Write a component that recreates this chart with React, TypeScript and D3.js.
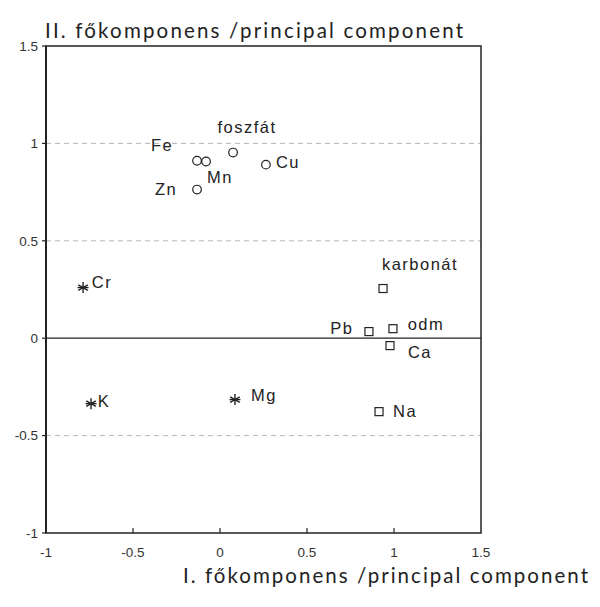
import React from "react";
import * as d3 from "d3";

// ---- data ----
const names = ["Fe", "Mn", "foszfát", "Cu", "Zn", "Cr", "K", "Mg", "karbonát", "Pb", "odm", "Ca", "Na"];
const pc1 = [-0.132, -0.08, 0.075, 0.264, -0.132, -0.787, -0.741, 0.086, 0.937, 0.856, 0.994, 0.977, 0.914];
const pc2 = [0.911, 0.907, 0.953, 0.891, 0.763, 0.26, -0.336, -0.315, 0.255, 0.034, 0.049, -0.038, -0.377];
const groups = ["circle", "circle", "circle", "circle", "circle", "star", "star", "star", "square", "square", "square", "square", "square"];
const xTicks = [-1, -0.5, 0, 0.5, 1, 1.5];
const yTicks = [-1, -0.5, 0, 0.5, 1, 1.5];
const gridY = [-0.5, 0.5, 1];
const xTitle = "I. főkomponens /principal component";
const yTitle = "II. főkomponens /principal component";

// label offsets (layout, px) relative to marker
const labelOffset: Record<string, [number, number]> = {
  Fe: [-35, -16],
  Mn: [14, 16],
  "foszfát": [14, -25],
  Cu: [22, -2],
  Zn: [-31, 0],
  Cr: [19, -5],
  K: [13, -2],
  Mg: [29, -4],
  "karbonát": [37, -24],
  Pb: [-27, -3],
  odm: [33, -4],
  Ca: [30, 7],
  Na: [26, 0],
};

const W = 600, H = 607;
const left = 46, right = 481, top = 46, bottom = 533;

export default function App() {
  const x = d3.scaleLinear().domain([-1, 1.5]).range([left, right]);
  const y = d3.scaleLinear().domain([-1, 1.5]).range([bottom, top]);
  const fmt = (v: number) => (v === 0 ? "0" : String(v));
  const ink = "#222";

  const marker = (g: string, cx: number, cy: number, i: number) => {
    if (g === "circle") return <circle key={"m" + i} cx={cx} cy={cy} r={4.3} fill="none" stroke={ink} strokeWidth={1.2} />;
    if (g === "square") return <rect key={"m" + i} x={cx - 4} y={cy - 4} width={8} height={8} fill="none" stroke={ink} strokeWidth={1.2} />;
    const r = 5.5;
    const angles = [90, 30, 150, 0];
    return (
      <g key={"m" + i} stroke={ink} strokeWidth={1.4}>
        {angles.map((a) => {
          const rad = (a * Math.PI) / 180;
          return <line key={a} x1={cx - r * Math.cos(rad)} y1={cy - r * Math.sin(rad)} x2={cx + r * Math.cos(rad)} y2={cy + r * Math.sin(rad)} />;
        })}
      </g>
    );
  };

  return (
    <svg width={W} height={H} style={{ position: "absolute", left: 0, top: 0, background: "#fff" }}>
      <rect x={0} y={0} width={W} height={H} fill="#fff" />
      {/* gridlines */}
      {gridY.map((v) => (
        <line key={"g" + v} x1={left} x2={right} y1={y(v)} y2={y(v)} stroke="#b5b5b5" strokeWidth={1} strokeDasharray="5 4" />
      ))}
      {/* zero line */}
      <line x1={left} x2={right} y1={y(0)} y2={y(0)} stroke={ink} strokeWidth={1.2} />
      {/* frame */}
      <rect x={left} y={top} width={right - left} height={bottom - top} fill="none" stroke={ink} strokeWidth={1.5} />
      <line x1={left} x2={left} y1={top} y2={bottom} stroke={ink} strokeWidth={2} />
      {/* y ticks */}
      {yTicks.map((v) => (
        <g key={"yt" + v}>
          <line x1={left - 4} x2={left} y1={y(v)} y2={y(v)} stroke={ink} strokeWidth={1.2} />
          <text x={38} y={y(v)} dy="0.35em" textAnchor="end" fontFamily="Liberation Sans, Arial, sans-serif" fontSize={13.5} fill="#333">
            {fmt(v)}
          </text>
        </g>
      ))}
      {/* x ticks */}
      {xTicks.map((v) => (
        <g key={"xt" + v}>
          {v > -1 && v < 1.5 && <line x1={x(v)} x2={x(v)} y1={bottom} y2={bottom - 5} stroke={ink} strokeWidth={1.2} />}
          <text x={x(v)} y={552} dy="0.35em" textAnchor="middle" fontFamily="Liberation Sans, Arial, sans-serif" fontSize={13.5} fill="#333">
            {fmt(v)}
          </text>
        </g>
      ))}
      {/* markers and labels */}
      {names.map((n, i) => {
        const cx = x(pc1[i]);
        const cy = y(pc2[i]);
        const [dx, dy] = labelOffset[n];
        return (
          <g key={n}>
            {marker(groups[i], cx, cy, i)}
            <text x={cx + dx} y={cy + dy} dy="0.35em" textAnchor="middle" fontFamily="Liberation Sans, Arial, sans-serif" fontSize={16.5} letterSpacing={1.5} fill={ink}>
              {n}
            </text>
          </g>
        );
      })}
      {/* titles */}
      <text x={45} y={38} fontFamily="Lato, 'Open Sans', sans-serif" fontSize={20.5} fill={ink} textLength={418} lengthAdjust="spacing">
        {yTitle}
      </text>
      <text x={183} y={583} fontFamily="Lato, 'Open Sans', sans-serif" fontSize={20.5} fill={ink} textLength={405} lengthAdjust="spacing">
        {xTitle}
      </text>
    </svg>
  );
}
